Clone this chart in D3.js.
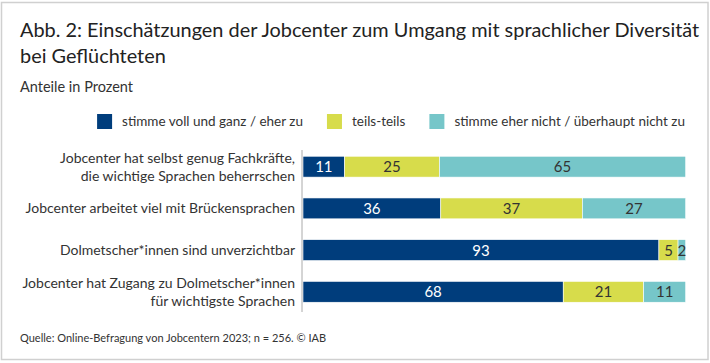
<!DOCTYPE html>
<html>
<head>
<meta charset="utf-8">
<script src="https://cdn.jsdelivr.net/npm/d3@7"></script>
<style>
  body { margin: 0; background: #fff; }
  svg text { font-family: Lato, "Open Sans", sans-serif; fill: #333; }
</style>
</head>
<body>
<svg id="chart" width="710" height="363"></svg>
<script>
// Anteile in Prozent
const categories = [
  ["Jobcenter hat selbst genug Fachkräfte,", "die wichtige Sprachen beherrschen"],
  ["Jobcenter arbeitet viel mit Brückensprachen"],
  ["Dolmetscher*innen sind unverzichtbar"],
  ["Jobcenter hat Zugang zu Dolmetscher*innen", "für wichtigste Sprachen"]
];
const seriesNames = ["stimme voll und ganz / eher zu", "teils-teils", "stimme eher nicht / überhaupt nicht zu"];
const agree    = [11, 36, 93, 68];
const partly   = [25, 37, 5, 21];
const disagree = [65, 27, 2, 11];
const colours = ["#003d7c", "#d7dc4b", "#76c6c9"];
const labelColours = ["#fff", "#333", "#333"];

const svg = d3.select("#chart");

// Rahmen
svg.append("rect")
  .attr("x", 1.5).attr("y", 2.5).attr("width", 706.5).attr("height", 357)
  .attr("fill", "none").attr("stroke", "#d0d0d0").attr("stroke-width", 1.5);

// Titel
const title = svg.append("text").attr("x", 20).attr("y", 37)
  .style("font-size", "19.9px").style("fill", "#222");
title.append("tspan").text("Abb. 2: Einschätzungen der Jobcenter zum Umgang mit sprachlicher Diversität");
title.append("tspan").attr("x", 20).attr("dy", 26).text("bei Geflüchteten");

svg.append("text").attr("x", 20).attr("y", 92)
  .style("font-size", "14.5px").text("Anteile in Prozent");

// Daten als Tabelle fuer den Stack
const rows = categories.map((c, i) => ({ key: i, label: c, s0: agree[i], s1: partly[i], s2: disagree[i] }));
const keys = ["s0", "s1", "s2"];
const stack = d3.stack().keys(keys).offset(d3.stackOffsetExpand);
const layers = stack(rows);

const x = d3.scaleLinear().domain([0, 1]).range([303, 685.7]);
const y = d3.scaleBand().domain(rows.map(d => d.key)).range([150, 308.5])
  .paddingInner(0.5).paddingOuter(0.15);

// Balken
const layerG = svg.selectAll("g.layer").data(layers).join("g")
  .attr("class", "layer")
  .attr("fill", (d, i) => colours[i]);

layerG.selectAll("rect").data(d => d).join("rect")
  .attr("x", d => x(d[0]))
  .attr("y", d => y(d.data.key))
  .attr("width", d => x(d[1]) - x(d[0]))
  .attr("height", y.bandwidth())
  .attr("stroke", "#fff").attr("stroke-width", 0.6);

layerG.each(function(layer, li) {
  d3.select(this).selectAll("text").data(layer).join("text")
    .attr("x", d => (x(d[0]) + x(d[1])) / 2)
    .attr("y", d => y(d.data.key) + y.bandwidth() / 2)
    .attr("dy", "0.36em")
    .attr("text-anchor", "middle")
    .style("font-size", "15px")
    .style("fill", labelColours[li])
    .text(d => d.data[layer.key]);
});

// Achsenlinie
svg.append("line")
  .attr("x1", 302).attr("x2", 302)
  .attr("y1", 150).attr("y2", 312)
  .attr("stroke", "#aaa").attr("stroke-width", 1);

// Kategorien
const catG = svg.append("g");
rows.forEach(r => {
  const cy = y(r.key) + y.bandwidth() / 2;
  const n = r.label.length;
  const t = catG.append("text")
    .attr("text-anchor", "end")
    .style("font-size", "14px");
  r.label.forEach((line, j) => {
    t.append("tspan").attr("x", 295)
      .attr("y", cy + 5 + (j - (n - 1) / 2) * 18)
      .text(line);
  });
});

// Legende, rechtsbuendig
const legend = svg.append("g");
const items = seriesNames.map((name, i) => {
  const g = legend.append("g");
  g.append("rect").attr("width", 15).attr("height", 15).attr("y", 114).attr("fill", colours[i]);
  const t = g.append("text").attr("x", 25).attr("y", 126).style("font-size", "13.5px").text(name);
  return { g, w: 25 + t.node().getComputedTextLength() };
});
let lx = 685;
for (let i = items.length - 1; i >= 0; i--) {
  lx -= items[i].w;
  items[i].g.attr("transform", `translate(${lx},0)`);
  lx -= 24;
}

// Quelle
svg.append("text").attr("x", 20).attr("y", 342)
  .style("font-size", "11px")
  .text("Quelle: Online-Befragung von Jobcentern 2023; n = 256. © IAB");
</script>
</body>
</html>
